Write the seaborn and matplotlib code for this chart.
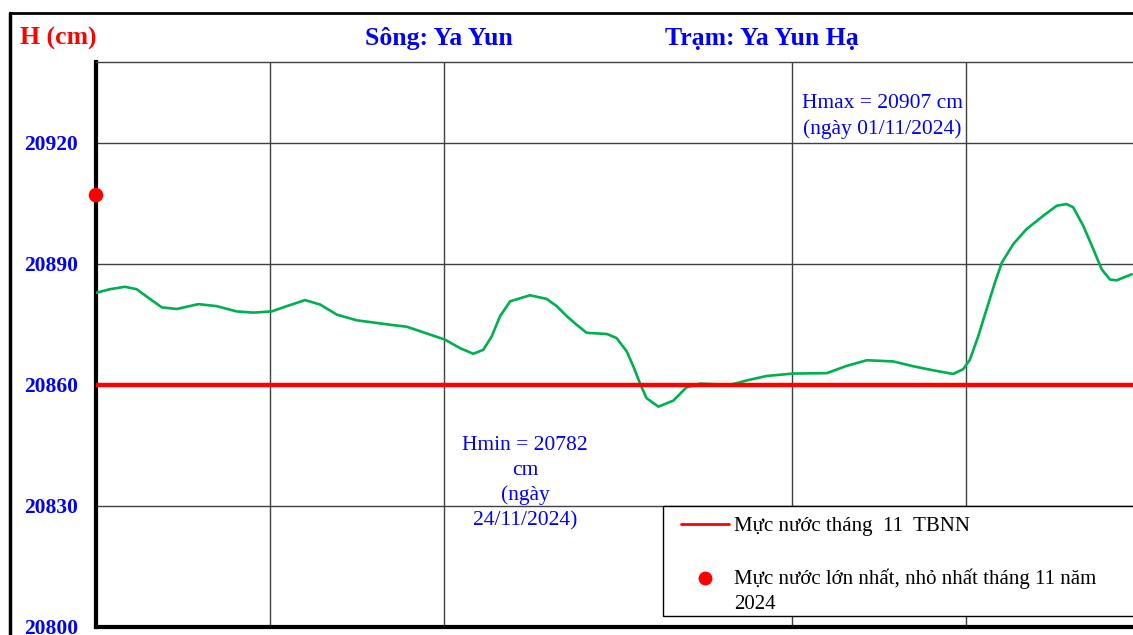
import matplotlib
matplotlib.use("Agg")
import matplotlib.pyplot as plt
from matplotlib.lines import Line2D
from matplotlib.patches import Rectangle
import numpy as np
import seaborn as sns

# water level H (cm) at Ya Yun Ha station, November 2024
days = [1.00, 1.40, 1.83, 2.17, 2.50, 2.89, 3.32, 3.94, 4.47, 5.04,
        5.52, 6.05, 6.48, 7.01, 7.44, 7.92, 8.49, 9.45, 9.93, 10.31,
        11.03, 11.46, 11.84, 12.13, 12.37, 12.61, 12.90, 13.47, 13.95, 14.24,
        14.53, 14.81, 15.10, 15.68, 15.96, 16.25, 16.44, 16.63, 16.82, 17.16,
        17.59, 17.97, 18.36, 19.22, 19.70, 20.27, 21.04, 22.00, 22.57, 23.15,
        23.91, 24.49, 25.06, 25.63, 25.92, 26.11, 26.35, 26.59, 26.83, 27.03,
        27.36, 27.74, 28.22, 28.61, 28.89, 29.08, 29.37, 29.66, 29.90, 30.14,
        30.33, 30.76]
levels = [20882.8, 20883.7, 20884.3, 20883.7, 20881.6, 20879.2, 20878.8, 20880.0, 20879.5, 20878.2,
          20877.9, 20878.2, 20879.5, 20881.0, 20879.9, 20877.4, 20876.0, 20874.9, 20874.4, 20873.3,
          20871.2, 20869.1, 20867.7, 20868.7, 20872.0, 20877.0, 20880.7, 20882.2, 20881.3, 20879.5,
          20877.0, 20874.9, 20872.9, 20872.6, 20871.6, 20868.3, 20864.6, 20860.4, 20856.7, 20854.6,
          20856.1, 20859.4, 20860.3, 20860.0, 20861.1, 20862.2, 20862.8, 20862.9, 20864.7, 20866.1,
          20865.8, 20864.6, 20863.6, 20862.7, 20863.9, 20866.2, 20872.0, 20878.7, 20885.3, 20890.3,
          20894.9, 20898.6, 20901.9, 20904.4, 20904.8, 20904.0, 20899.4, 20893.6, 20888.6, 20886.1,
          20885.9, 20887.4]

tbnn_level = 20860          # mean November level (TBNN)
hmax_day = [1]
hmax_value = [20907]
hmax_text = "Hmax = 20907 cm\n(ngày 01/11/2024)"
hmin_text = "Hmin = 20782\ncm\n(ngày\n24/11/2024)"

y_ticks = [20800, 20830, 20860, 20890, 20920]
x_grid_days = [6, 11, 21, 26]

sns.set_style("white")
plt.rcParams['font.family'] = ['Liberation Serif', 'DejaVu Serif']

W, H = 1133, 635
fig = plt.figure(figsize=(W / 100, H / 100), dpi=100)
ax = fig.add_axes([96 / W, 8 / H, 1037 / W, 565 / H])

sns.lineplot(x=days, y=levels, color='#00B050', lw=1.9, ax=ax, zorder=3)
ax.axhline(tbnn_level, color='#FF0000', lw=3.2, zorder=4)
sns.scatterplot(x=hmax_day, y=hmax_value, color='#FF0000', s=110, edgecolor='none',
                ax=ax, zorder=6, clip_on=False)

ax.set_xlim(1, 1 + 1037 / 34.8)
ax.set_ylim(20800, 20940)
ax.set_xticks(x_grid_days)
ax.set_yticks(y_ticks)
ax.grid(True, color='#404040', lw=1)
ax.tick_params(axis='x', length=0, labelbottom=False)
ax.tick_params(axis='y', length=0, pad=13, labelsize=15.5, labelcolor='#0000FF')
for lab in ax.get_yticklabels():
    lab.set_fontweight('bold')
ax.set_xlabel('')
ax.set_ylabel('')

for side in ['left', 'bottom']:
    ax.spines[side].set_linewidth(3)
    ax.spines[side].set_color('black')
ax.spines['top'].set_linewidth(1)
ax.spines['top'].set_color('#404040')
ax.spines['right'].set_visible(False)

# annotations
ax.text(0.758, 0.903, hmax_text, transform=ax.transAxes, ha='center', va='center',
        color='#0000FF', fontsize=15.5, linespacing=1.4)
ax.text(0.4137, 0.2545, hmin_text, transform=ax.transAxes, ha='center', va='center',
        color='#0000FF', fontsize=15.5, linespacing=1.4)

# legend: white box drawn separately, running past the right edge as in the source
ax.add_patch(Rectangle((0.5468, 0.0195), 0.5, 0.1947, transform=ax.transAxes,
                       facecolor='white', edgecolor='black', lw=1, zorder=7, clip_on=False))
line_handle = Line2D([], [], color='#FF0000', lw=2)
dot_handle = Line2D([], [], color='#FF0000', lw=0, marker='o', markersize=9)
labels = ['Mực nước tháng  11  TBNN', 'Mực nước lớn nhất, nhỏ nhất tháng 11 năm\n2024']
leg = ax.legend([line_handle, dot_handle], labels, loc='upper left', bbox_to_anchor=(0.5641, 0.196),
                borderaxespad=0, borderpad=0, fontsize=15, frameon=False,
                handlelength=2.3, labelspacing=1.55, handletextpad=0.25)
leg.set_zorder(8)
for t in leg.get_texts():
    t.set_color('black')
    t.set_linespacing(1.45)
# put the dot level with the first line of its two-line label
dot = leg.legend_handles[1]
dot.set_ydata(np.asarray(dot.get_ydata()) + 9.5)

# header
fig.text(20 / W, 1 - 38 / H, 'H (cm)', color='#FF0000', fontsize=18.5, fontweight='bold', va='center')
fig.text(365 / W, 1 - 38 / H, 'Sông: Ya Yun', color='#0000FF', fontsize=18.5, fontweight='bold', va='center')
fig.text(665 / W, 1 - 38 / H, 'Trạm: Ya Yun Hạ', color='#0000FF', fontsize=18.5, fontweight='bold', va='center')

# outer frame
fig.add_artist(Line2D([10 / W, 10 / W], [0, 1 - 13 / H], transform=fig.transFigure, color='black', lw=2.5))
fig.add_artist(Line2D([10 / W, 1], [1 - 13 / H, 1 - 13 / H], transform=fig.transFigure, color='black', lw=2))

fig.savefig('out.png', dpi=100)
